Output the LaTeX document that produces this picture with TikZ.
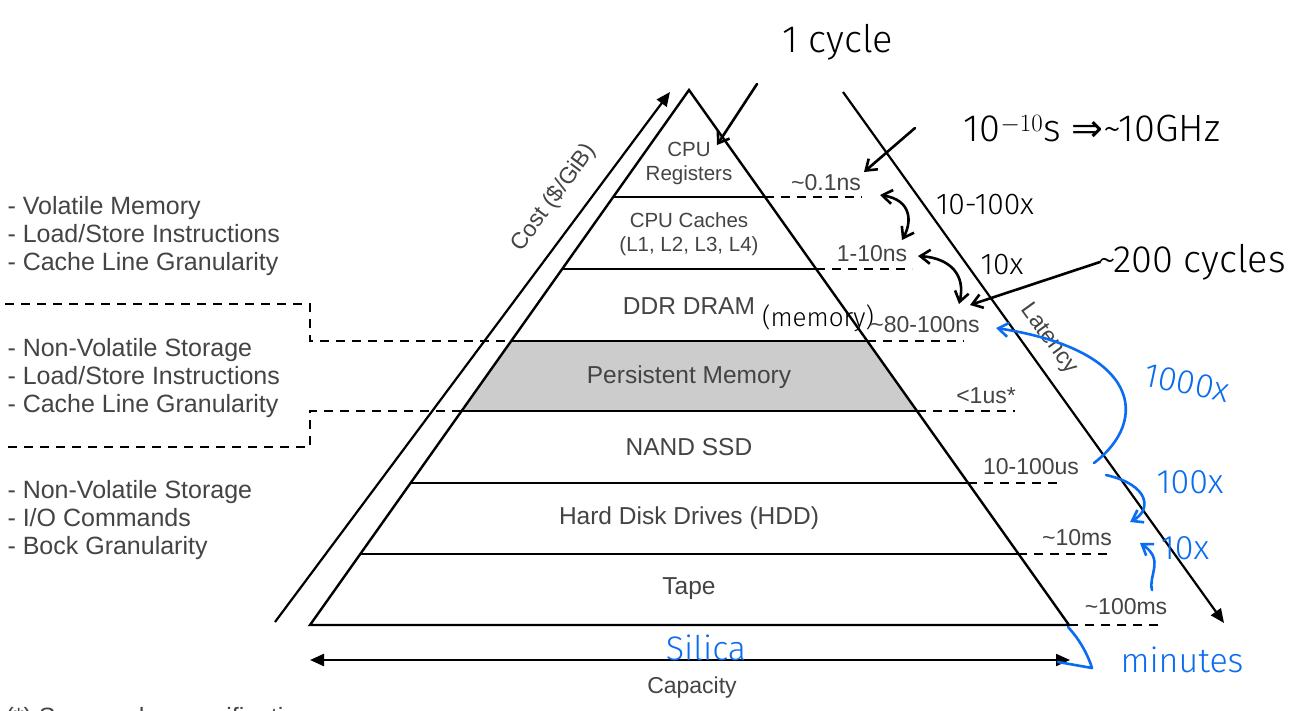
\documentclass[tikz,border=0pt]{standalone}
\usepackage{fontspec}
\setmainfont{Liberation Sans}
\newfontfamily\hand{Fira Sans Light}
\newfontfamily\sym{DejaVu Sans}
\usetikzlibrary{arrows.meta}
\definecolor{txt}{HTML}{444444}
\definecolor{pen}{HTML}{0A6CF0}
\tikzset{
  edge/.style={line width=2.4pt, black},
  lvl/.style={line width=2.4pt, black},
  dsh/.style={line width=2.6pt, black, dash pattern=on 9pt off 7pt},
  axis/.style={line width=2.2pt, black, -{Triangle[length=14pt,width=12pt]}},
  layer/.style={font=\fontsize{24.5}{28}\selectfont, text=txt, align=center},
  small/.style={font=\fontsize{20.5}{24}\selectfont},
  lat/.style={font=\fontsize{23}{26}\selectfont, text=txt},
  side/.style={font=\fontsize{25}{28}\selectfont, text=txt, align=left, anchor=west},
  ink/.style={line width=2.6pt, black, line cap=round, line join=round},
  blueink/.style={line width=2.6pt, pen, line cap=round, line join=round},
  hw/.style={font=\hand\fontsize{38}{40}\selectfont, text=black},
  hwb/.style={font=\hand\fontsize{34}{36}\selectfont, text=pen},
  tip/.style={-{Straight Barb[length=10pt,width=14pt]}},
  tips/.style={{Straight Barb[length=10pt,width=14pt]}-{Straight Barb[length=10pt,width=14pt]}},
}
\begin{document}
\begin{tikzpicture}[x=1pt,y=-1pt]
\useasboundingbox (0,0) rectangle (1290,710);
\fill[white] (0,0) rectangle (1290,710);
% coordinates
\coordinate (apex) at (689,90);
\coordinate (bl) at (310,625);
\coordinate (br) at (1069,625);
% persistent memory fill
\fill[gray!40] (511,341) -- (867,341) -- (917,411) -- (461,411) -- cycle;
% levels
\draw[lvl] (613,197) -- (765,197);
\draw[lvl] (562,269) -- (816,269);
\draw[lvl] (511,341) -- (867,341);
\draw[lvl] (461,411) -- (917,411);
\draw[lvl] (410,483) -- (968,483);
\draw[lvl] (360,554) -- (1018,554);
\draw[edge] (apex) -- (bl) -- (br) -- cycle;
% dashed extensions
\draw[dsh] (765,197) -- (862,197);
\draw[dsh] (816,269) -- (912,269);
\draw[dsh] (867,341) -- (964,341);
\draw[dsh] (917,411) -- (1015,411);
\draw[dsh] (968,483) -- (1064,483);
\draw[dsh] (1018,554) -- (1112,554);
\draw[dsh] (1069,625) -- (1162,625);
% left separators
\draw[dsh] (5,304) -- (310,304) -- (310,341) -- (511,341);
\draw[dsh] (461,411) -- (310,411) -- (310,447) -- (5,447);
% layer labels
\node[layer, small] (reg) at (689,163) {CPU\\Registers};
\node[layer, small] (cache) at (689,234) {CPU Caches\\(L1, L2, L3, L4)};
\node[layer] (dram) at (689,306) {DDR DRAM};
\node[layer] (pm) at (689,377) {Persistent Memory};
\node[layer] (ssd) at (689,447) {NAND SSD};
\node[layer] (hdd) at (689,518) {Hard Disk Drives (HDD)};
\node[layer] (tape) at (689,589) {Tape};
% latency labels
\node[lat] (l1) at (826,183) {\textasciitilde0.1ns};
\node[lat] (l2) at (872,254) {1-10ns};
\node[lat] (l3) at (925,325) {\textasciitilde80-100ns};
\node[lat] (l4) at (986,396) {<1us*};
\node[lat] (l5) at (1031,467) {10-100us};
\node[lat] (l6) at (1077,538) {\textasciitilde10ms};
\node[lat] (l7) at (1126,607) {\textasciitilde100ms};
% axes
\coordinate (c0) at (275,622); \coordinate (c1) at (670,92);
\draw[axis] (c0) -- (c1);
\coordinate (t0) at (843,92); \coordinate (t1) at (1224,623);
\draw[axis] (t0) -- (t1);
\coordinate (k0) at (310,660); \coordinate (k1) at (1070,660);
\draw[axis, {Triangle[length=14pt,width=12pt]}-{Triangle[length=14pt,width=12pt]}] (k0) -- (k1);
\node[lat, rotate=53.5] (cost) at (554,198) {Cost (\$/GiB)};
\node[lat, rotate=-54] (latency) at (1049,339) {Latency};
\node[lat] (cap) at (692,688) {Capacity};
% left text
\node[side] (s1) at (4,236) {- Volatile Memory\\- Load/Store Instructions\\- Cache Line Granularity};
\node[side] (s2) at (4,378) {- Non-Volatile Storage\\- Load/Store Instructions\\- Cache Line Granularity};
\node[side] (s3) at (4,520) {- Non-Volatile Storage\\- I/O Commands\\- Bock Granularity};
\node[side] (foot) at (2,719) {(*) See vendor specifications};
% handwritten black
\node[hw] (cyc) at (838,42) {1 cycle};
\draw[ink, tip] (757,84) -- (717,145);
\node[hw] (ghz) at (1092,128) {10$^{-10}$s {\sym ⇒}\textasciitilde10GHz};
\draw[ink, tip] (915,128) -- (864,172);
\node[hw, font=\hand\fontsize{30}{32}\selectfont] (x100) at (985,205) {10-100x};
\draw[ink, tips] (880,195) .. controls (912,200) and (912,222) .. (902,240);
\node[hw, font=\hand\fontsize{30}{32}\selectfont] (x10) at (1002,265) {10x};
\draw[ink, tips] (918,256) .. controls (950,258) and (966,275) .. (959,304);
\node[hw] (cyc200) at (1192,262) {\textasciitilde200 cycles};
\draw[ink, tip] (1100,262) -- (970,305);
\node[hw, font=\hand\fontsize{26}{28}\selectfont] (mem) at (818,318) {(memory)};
% handwritten blue
\node[hwb, rotate=-12] (b1000) at (1187,383) {1000x};
\draw[blueink, tip] (1094,463) .. controls (1150,420) and (1140,350) .. (996,328);
\node[hwb] (b100) at (1190,482) {100x};
\draw[blueink, tip] (1106,475) .. controls (1150,485) and (1152,510) .. (1130,522);
\node[hwb] (b10) at (1185,548) {10x};
\draw[blueink, tip] (1152,590) .. controls (1148,575) and (1165,560) .. (1140,543);
\node[hwb] (sil) at (706,648) {Silica};
\node[hwb] (mins) at (1182,660) {minutes};
\draw[blueink] (1068,627) .. controls (1080,640) and (1088,655) .. (1092,668) -- (1058,662);
\end{tikzpicture}
\end{document}
